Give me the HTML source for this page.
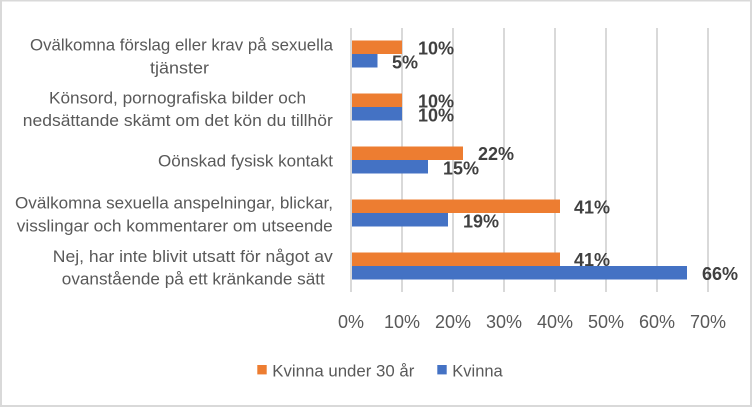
<!DOCTYPE html>
<html><head><meta charset="utf-8"><style>
html,body{margin:0;padding:0;background:#fff;}
svg{display:block;}
</style></head><body>
<svg width="752" height="407" viewBox="0 0 752 407" xmlns="http://www.w3.org/2000/svg">
<rect x="0" y="0" width="752" height="407" fill="#fff"/>
<!-- border -->
<rect x="1" y="0.5" width="750" height="405.5" fill="none" stroke="#d9d9d9" stroke-width="2"/>
<!-- gridlines -->
<g stroke="#d9d9d9" stroke-width="2">
<line x1="351" y1="28" x2="351" y2="292"/>
<line x1="402" y1="28" x2="402" y2="292"/>
<line x1="453" y1="28" x2="453" y2="292"/>
<line x1="504" y1="28" x2="504" y2="292"/>
<line x1="555" y1="28" x2="555" y2="292"/>
<line x1="606" y1="28" x2="606" y2="292"/>
<line x1="657" y1="28" x2="657" y2="292"/>
<line x1="708" y1="28" x2="708" y2="292"/>
</g>
<!-- bars -->
<g>
<rect x="352" y="40.5" width="50" height="13.5" fill="#ED7D31"/>
<rect x="352" y="54" width="25.5" height="13.5" fill="#4472C4"/>
<rect x="352" y="93.5" width="50" height="13.5" fill="#ED7D31"/>
<rect x="352" y="107" width="50" height="13.5" fill="#4472C4"/>
<rect x="352" y="146.5" width="111" height="13.5" fill="#ED7D31"/>
<rect x="352" y="160" width="76" height="13.5" fill="#4472C4"/>
<rect x="352" y="199.5" width="208" height="13.5" fill="#ED7D31"/>
<rect x="352" y="213" width="96" height="13.5" fill="#4472C4"/>
<rect x="352" y="252.5" width="208" height="13.5" fill="#ED7D31"/>
<rect x="352" y="266" width="335" height="13.5" fill="#4472C4"/>
</g>
<!-- data labels -->
<g font-family="Liberation Sans, Arial, sans-serif" font-weight="bold" font-size="18" fill="#404040">
<text x="418" y="54.7">10%</text>
<text x="392" y="68.7">5%</text>
<text x="418" y="107.5">10%</text>
<text x="418" y="121.5">10%</text>
<text x="478" y="160">22%</text>
<text x="443" y="174.5">15%</text>
<text x="574" y="213.7">41%</text>
<text x="463" y="227.7">19%</text>
<text x="574" y="266.2">41%</text>
<text x="702" y="280">66%</text>
</g>
<!-- category labels -->
<g font-family="Liberation Sans, Arial, sans-serif" font-size="17" fill="#595959" text-anchor="middle">
<text x="181.5" y="50.7" textLength="303" lengthAdjust="spacingAndGlyphs">Ovälkomna förslag eller krav på sexuella</text>
<text x="179.5" y="73.5" textLength="59" lengthAdjust="spacingAndGlyphs">tjänster</text>
<text x="177.5" y="103.3" textLength="257" lengthAdjust="spacingAndGlyphs">Könsord, pornografiska bilder och</text>
<text x="177.8" y="126" textLength="310" lengthAdjust="spacingAndGlyphs">nedsättande skämt om det kön du tillhör</text>
<text x="245.5" y="166.7" textLength="175" lengthAdjust="spacingAndGlyphs">Oönskad fysisk kontakt</text>
<text x="174" y="208.6" textLength="318" lengthAdjust="spacingAndGlyphs">Ovälkomna sexuella anspelningar, blickar,</text>
<text x="174.8" y="231.7" textLength="316" lengthAdjust="spacingAndGlyphs">visslingar och kommentarer om utseende</text>
<text x="192.8" y="261.8" textLength="280" lengthAdjust="spacingAndGlyphs">Nej, har inte blivit utsatt för något av</text>
<text x="193.3" y="284.5" textLength="263" lengthAdjust="spacingAndGlyphs">ovanstående på ett kränkande sätt</text>
</g>
<!-- axis tick labels -->
<g font-family="Liberation Sans, Arial, sans-serif" font-size="18" fill="#595959" text-anchor="middle">
<text x="351" y="328">0%</text>
<text x="402" y="328">10%</text>
<text x="453" y="328">20%</text>
<text x="504" y="328">30%</text>
<text x="555" y="328">40%</text>
<text x="606" y="328">50%</text>
<text x="657" y="328">60%</text>
<text x="708" y="328">70%</text>
</g>
<!-- legend -->
<rect x="257.3" y="365" width="9.4" height="9.4" fill="#ED7D31"/>
<text x="272.3" y="376.5" font-family="Liberation Sans, Arial, sans-serif" font-size="16.5" fill="#595959" textLength="142" lengthAdjust="spacingAndGlyphs">Kvinna under 30 år</text>
<rect x="437.3" y="365" width="9.4" height="9.4" fill="#4472C4"/>
<text x="452.3" y="376.5" font-family="Liberation Sans, Arial, sans-serif" font-size="16.5" fill="#595959" textLength="50.4" lengthAdjust="spacingAndGlyphs">Kvinna</text>
</svg>
</body></html>
